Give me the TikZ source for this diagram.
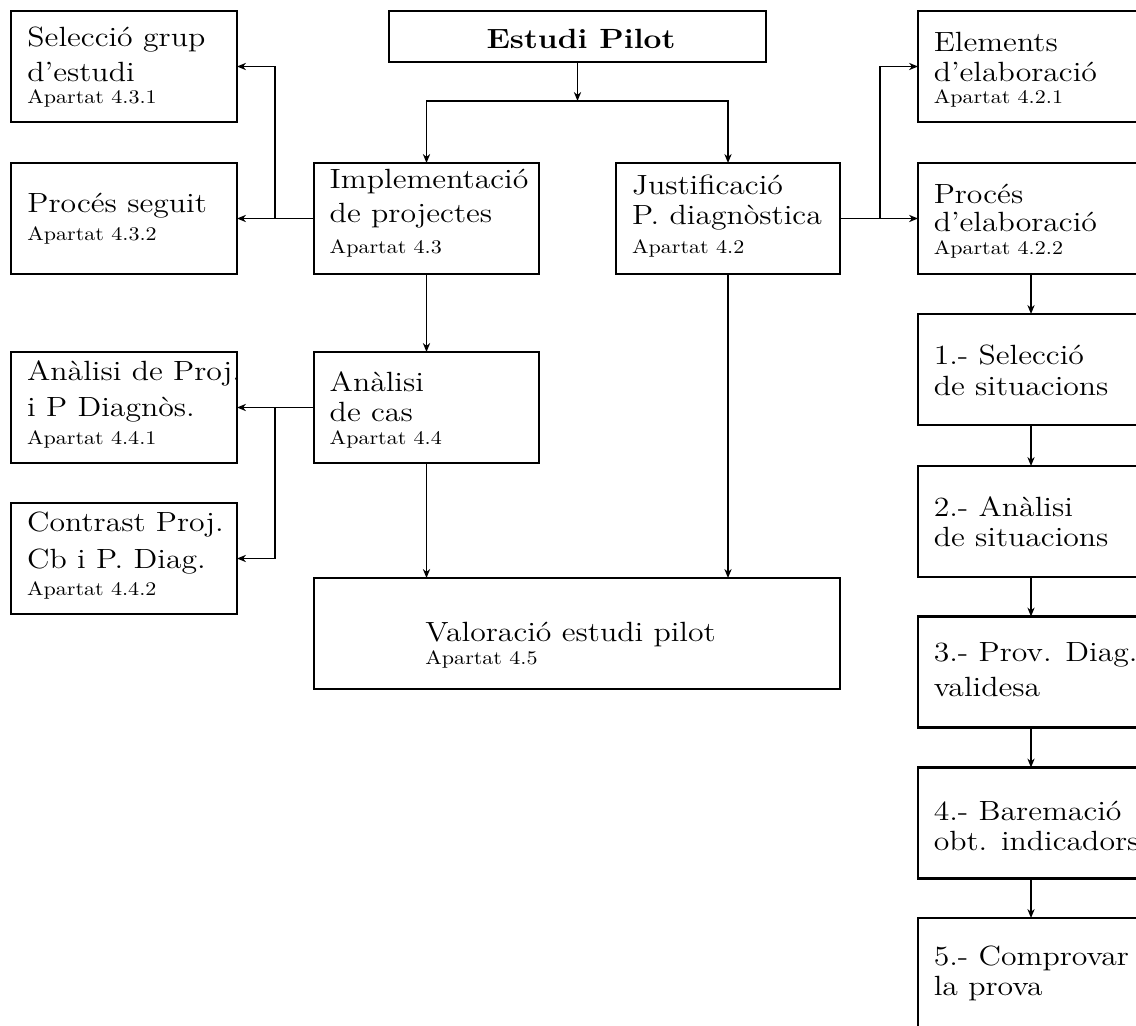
\documentclass[tikz,border=0pt]{standalone}
\usetikzlibrary{arrows.meta}
% one drawing unit = one pixel of the final image
\newcommand\pxu{0.5181pt}
\begin{document}
\begin{tikzpicture}[x=\pxu, y=-\pxu,
  box/.style={draw, line width=1.3pt, inner sep=0pt, outer sep=0pt,
    minimum width=226*\pxu, minimum height=111*\pxu},
  % lettering is set slightly wide
  main/.style={font=\fontsize{14.4}{17}\selectfont, inner sep=0pt, anchor=base west, xscale=1.142},
  mainb/.style={font=\fontsize{14.4}{17}\selectfont\bfseries, inner sep=0pt, anchor=base, xscale=1.142},
  sub/.style={font=\fontsize{10}{12}\selectfont, inner sep=0pt, anchor=base west, xscale=1.142},
  link/.style={line width=0.85pt, -{Stealth[length=4.6pt,width=3.7pt,inset=1.4pt]}}]
\useasboundingbox (0,0) rectangle (1136,1026);
\clip (0,0) rectangle (1136,1026);

% boxes
\node[box, minimum width=377*\pxu, minimum height=51*\pxu] (ep) at (577.5,36.5) {};
\node[box] (sel) at (124,66.5) {};
\node[box] (seg) at (124,218.5) {};
\node[box, minimum width=225*\pxu] (imp) at (426.5,218.5) {};
\node[box, minimum width=224*\pxu] (jus) at (728,218.5) {};
\node[box] (ele) at (1031,66.5) {};
\node[box] (pel) at (1031,218.5) {};
\node[box] (apd) at (124,407.5) {};
\node[box] (con) at (124,558.5) {};
\node[box, minimum width=225*\pxu] (cas) at (426.5,407.5) {};
\node[box, minimum width=526*\pxu] (val) at (577,633.5) {};
\node[box] (s1) at (1031,369.5) {};
\node[box] (s2) at (1031,521.5) {};
\node[box] (s3) at (1031,672) {};
\node[box] (s4) at (1031,823) {};
\node[box] (s5) at (1031,973.5) {};

% box texts
\node[mainb] (ep-a) at (581,48.3) {Estudi Pilot};

\node[main] (sel-a) at (27,46.7) {Selecció grup};
\node[main] (sel-b) at (27,81.7) {d’estudi};
\node[sub]  (sel-c) at (27,104) {Apartat 4.3.1};

\node[main] (seg-a) at (27,212.3) {Procés seguit};
\node[sub]  (seg-c) at (27,240.7) {Apartat 4.3.2};

\node[main] (imp-a) at (329.3,189) {Implementació};
\node[main] (imp-b) at (329.3,223) {de projectes};
\node[sub]  (imp-c) at (329.3,254) {Apartat 4.3};

\node[main] (jus-a) at (631.7,195) {Justificació};
\node[main] (jus-b) at (631.7,225) {P. diagnòstica};
\node[sub]  (jus-c) at (631.7,254) {Apartat 4.2};

\node[main] (ele-a) at (933.3,51.7) {Elements};
\node[main] (ele-b) at (933.3,81.7) {d’elaboració};
\node[sub]  (ele-c) at (933.3,104) {Apartat 4.2.1};

\node[main] (pel-a) at (933.3,203.3) {Procés};
\node[main] (pel-b) at (933.3,231.7) {d’elaboració};
\node[sub]  (pel-c) at (933.3,255) {Apartat 4.2.2};

\node[main] (apd-a) at (26.7,380) {Anàlisi de Proj.};
\node[main] (apd-b) at (26.7,416) {i P Diagnòs.};
\node[sub]  (apd-c) at (26.7,444.3) {Apartat 4.4.1};

\node[main] (con-a) at (26.7,531.7) {Contrast Proj.};
\node[main] (con-b) at (26.7,568.3) {Cb i P. Diag.};
\node[sub]  (con-c) at (26.7,595.7) {Apartat 4.4.2};

\node[main] (cas-a) at (329.3,391.7) {Anàlisi};
\node[main] (cas-b) at (329.3,421.7) {de cas};
\node[sub]  (cas-c) at (329.3,444.3) {Apartat 4.4};

\node[main] (val-a) at (425,641.7) {Valoració estudi pilot};
\node[sub]  (val-c) at (425,664) {Apartat 4.5};

\node[main] (s1-a) at (933.3,365) {1.- Selecció};
\node[main] (s1-b) at (933.3,395) {de situacions};
\node[main] (s2-a) at (933.3,516.7) {2.- Anàlisi};
\node[main] (s2-b) at (933.3,546.7) {de situacions};
\node[main] (s3-a) at (933.3,661.7) {3.- Prov. Diag.};
\node[main] (s3-b) at (933.3,696.7) {validesa};
\node[main] (s4-a) at (933.3,820.7) {4.- Baremació};
\node[main] (s4-b) at (933.3,850) {obt. indicadors};
\node[main] (s5-a) at (933.3,965) {5.- Comprovar};
\node[main] (s5-b) at (933.3,995) {la prova};

% junction points of the branching connectors
\coordinate (split) at (577.5,101);
\coordinate (lb1) at (275,218.5);
\coordinate (rb1) at (880,218.5);
\coordinate (lb2) at (275,407.5);

% connectors
\draw[link] (ep.south) -- (split);
\draw[link] (split) -| (imp.north);
\draw[link] (split) -| (jus.north);

\draw[link] (imp.west) -- (seg.east);
\draw[link] (lb1) |- (sel.east);
\draw[link] (jus.east) -- (pel.west);
\draw[link] (rb1) |- (ele.west);

\draw[link] (pel.south) -- (s1.north);
\draw[link] (s1.south) -- (s2.north);
\draw[link] (s2.south) -- (s3.north);
\draw[link] (s3.south) -- (s4.north);
\draw[link] (s4.south) -- (s5.north);

\draw[link] (imp.south) -- (cas.north);
\draw[link] (cas.west) -- (apd.east);
\draw[link] (lb2) |- (con.east);
\draw[link] (cas.south) -- (cas.south |- val.north);
\draw[link] (jus.south) -- (jus.south |- val.north);
\end{tikzpicture}
\end{document}
